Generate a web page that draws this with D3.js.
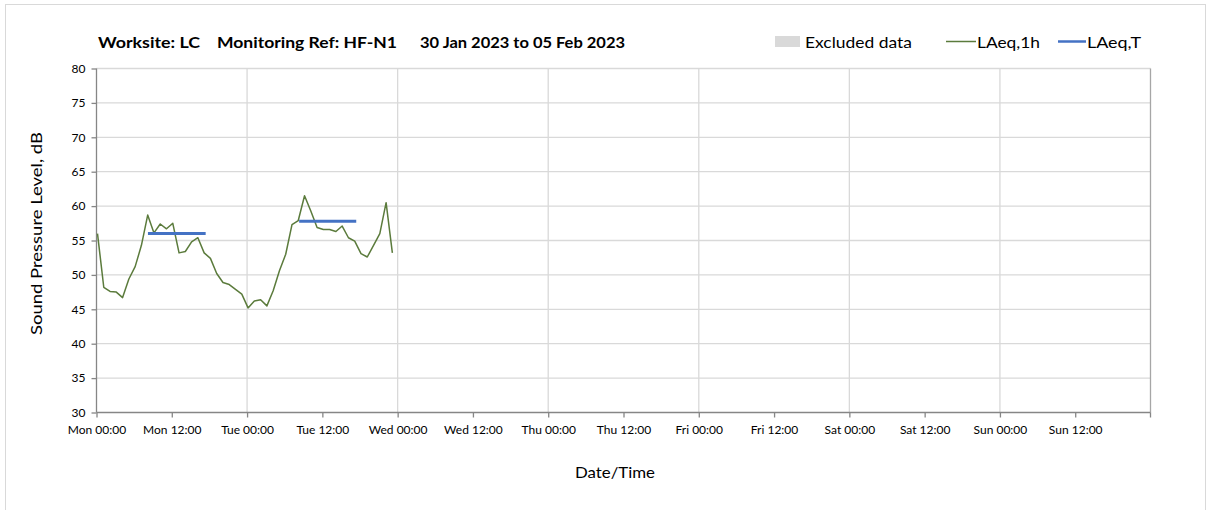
<!DOCTYPE html>
<html><head><meta charset="utf-8">
<script src="https://cdn.jsdelivr.net/npm/d3@7"></script>
<style>
html,body{margin:0;padding:0;background:#fff;}
text{font-family:Lato,"Open Sans",sans-serif;fill:#000;}
</style></head>
<body>
<svg id="chart" width="1208" height="510"></svg>
<script>
// ---- data ----
const titleParts = ["Worksite: LC", "Monitoring Ref: HF-N1", "30 Jan 2023 to 05 Feb 2023"];
const xTickLabels = ["Mon 00:00","Mon 12:00","Tue 00:00","Tue 12:00","Wed 00:00","Wed 12:00","Thu 00:00","Thu 12:00","Fri 00:00","Fri 12:00","Sat 00:00","Sat 12:00","Sun 00:00","Sun 12:00"];
const yTicks = [30,35,40,45,50,55,60,65,70,75,80];
// hourly LAeq,1h from Mon 00:00 (hour index)
const laeq1hHours = d3.range(0,48);
const laeq1hValues = [56.0,48.2,47.6,47.5,46.7,49.4,51.2,54.3,58.7,56.1,57.4,56.7,57.5,53.2,53.4,54.8,55.4,53.2,52.4,50.2,48.9,48.6,47.9,47.2,
                      45.2,46.2,46.4,45.5,47.7,50.6,53.0,57.3,57.9,61.5,59.3,56.9,56.6,56.6,56.3,57.1,55.4,54.9,53.1,52.6,54.3,56.0,60.5,53.2];
// LAeq,T periods (hours from Mon 00:00)
const laeqTStart = [8.2, 32.3];
const laeqTEnd = [17.4, 41.4];
const laeqTValues = [56.0, 57.8];
const legendLabels = ["Excluded data","LAeq,1h","LAeq,T"];

const svg = d3.select("#chart");
// outer border
svg.append("rect").attr("x",5.5).attr("y",4.5).attr("width",1200).attr("height",520)
  .attr("fill","none").attr("stroke","#d9d9d9").attr("stroke-width",1);

const L=96.5, R=1150.5, T=68.5, B=412.5;
const x = d3.scaleLinear().domain([0,168]).range([L,R]);
const y = d3.scaleLinear().domain([30,80]).range([B,T]);

// gridlines
const g = svg.append("g");
g.selectAll(".hg").data(yTicks.filter(v=>v>30)).join("line")
  .attr("x1",L).attr("x2",R).attr("y1",d=>y(d)).attr("y2",d=>y(d))
  .attr("stroke","#d9d9d9").attr("stroke-width",1.3);
g.selectAll(".vg").data(d3.range(24,169,24)).join("line")
  .attr("x1",d=>x(d)).attr("x2",d=>x(d)).attr("y1",T).attr("y2",B)
  .attr("stroke",d=>d===168?"#a6a6a6":"#d9d9d9").attr("stroke-width",1.3);

// axes
const xAxis = d3.axisBottom(x).tickValues(d3.range(0,168,12)).tickSize(5)
  .tickFormat((d,i)=>xTickLabels[i]);
const ax = svg.append("g").attr("transform",`translate(0,${B})`).call(xAxis);
ax.select(".domain").attr("stroke","#868686").attr("stroke-width",1.3).attr("d",`M${L},0H${R}`);
ax.selectAll(".tick line").attr("stroke","#868686").attr("stroke-width",1.3);
ax.selectAll(".tick text").attr("font-size",12).attr("dy","1.15em").style("font-family","Lato,sans-serif");
ax.append("line").attr("x1",R).attr("x2",R).attr("y1",0).attr("y2",5).attr("stroke","#868686").attr("stroke-width",1.3);

const yAxis = d3.axisLeft(y).tickValues(yTicks).tickSize(5).tickPadding(6);
const ay = svg.append("g").attr("transform",`translate(${L},0)`).call(yAxis);
ay.select(".domain").attr("stroke","#868686").attr("stroke-width",1.3).attr("d",`M0,${T}V${B}`);
ay.selectAll(".tick line").attr("stroke","#868686").attr("stroke-width",1.3);
ay.selectAll(".tick text").attr("font-size",12).style("font-family","Lato,sans-serif");

// LAeq,1h line
const line = d3.line().x(d=>x(d[0])).y(d=>y(d[1]));
svg.append("path").datum(laeq1hHours.map((h,i)=>[h,laeq1hValues[i]]))
  .attr("d",line).attr("fill","none").attr("stroke","#5b7b3c").attr("stroke-width",1.5)
  .attr("stroke-linejoin","round").attr("transform","translate(1,0)");

// LAeq,T
svg.selectAll(".lt").data(laeqTValues).join("line")
  .attr("x1",(d,i)=>x(laeqTStart[i])).attr("x2",(d,i)=>x(laeqTEnd[i]))
  .attr("y1",d=>y(d)).attr("y2",d=>y(d))
  .attr("stroke","#4472c4").attr("stroke-width",3);

// title
const tx=[98,217,420], tw=[102,180,205];
svg.selectAll(".title").data(titleParts).join("text")
  .attr("x",(d,i)=>tx[i]).attr("y",48).attr("font-size",16).attr("font-weight","bold")
  .attr("textLength",(d,i)=>tw[i]).attr("lengthAdjust","spacingAndGlyphs").text(d=>d);

// legend
const lx=[805,977,1087], lw=[107,63,54];
svg.append("rect").attr("x",775).attr("y",36).attr("width",25).attr("height",11).attr("fill","#d9d9d9");
svg.append("line").attr("x1",946).attr("x2",976).attr("y1",41.5).attr("y2",41.5).attr("stroke","#5b7b3c").attr("stroke-width",1.5);
svg.append("line").attr("x1",1058).attr("x2",1086).attr("y1",41.5).attr("y2",41.5).attr("stroke","#4472c4").attr("stroke-width",2.5);
svg.selectAll(".leg").data(legendLabels).join("text")
  .attr("x",(d,i)=>lx[i]).attr("y",48).attr("font-size",16)
  .attr("textLength",(d,i)=>lw[i]).attr("lengthAdjust","spacingAndGlyphs").text(d=>d);

// axis titles
svg.append("text").attr("x",575).attr("y",478).attr("font-size",16)
  .attr("textLength",80).attr("lengthAdjust","spacingAndGlyphs").text("Date/Time");
svg.append("text").attr("transform","translate(42,335) rotate(-90)").attr("font-size",16)
  .attr("textLength",203).attr("lengthAdjust","spacingAndGlyphs").text("Sound Pressure Level, dB");
</script>
</body></html>
